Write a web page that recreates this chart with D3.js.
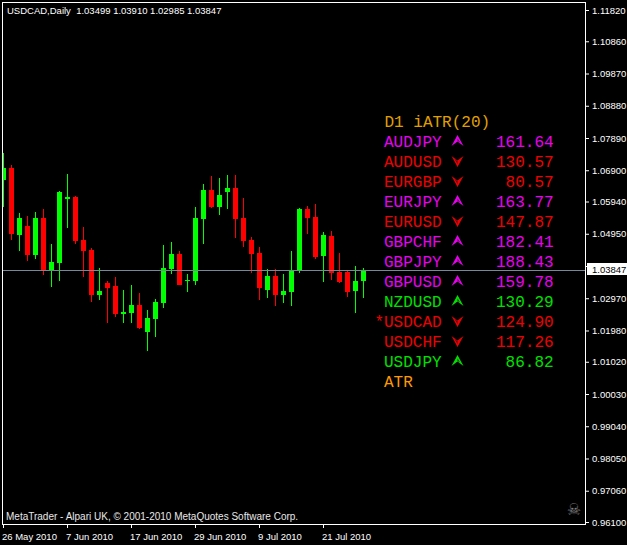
<!DOCTYPE html>
<html>
<head>
<meta charset="utf-8">
<script src="https://cdn.jsdelivr.net/npm/d3@7"></script>
<style>
  html, body { margin: 0; padding: 0; background: #000; }
  svg { display: block; }
  .tick text { font-family: "Liberation Sans", sans-serif; font-size: 9.5px; fill: #fff; }
</style>
</head>
<body>
<div id="chart"></div>
<script>
// Daily USDCAD candles
const opens = [1.06601,1.06969,1.04912,1.05188,1.04298,1.05434,1.03837,1.04052,1.06017,1.06079,1.04759,1.04452,1.03070,1.03439,1.03346,1.02487,1.02517,1.02763,1.01934,1.02333,1.02825,1.03868,1.04329,1.03500,1.03500,1.05403,1.06294,1.05772,1.06232,1.06355,1.05434,1.04759,1.04360,1.03223,1.03654,1.03070,1.03162,1.03807,1.05710,1.05465,1.04268,1.04882,1.03776,1.03776,1.03193,1.03499];
const highs = [1.07430,1.07061,1.05587,1.05495,1.05618,1.05710,1.04636,1.06263,1.06785,1.06109,1.05158,1.04513,1.03899,1.03500,1.03623,1.03223,1.03377,1.03131,1.02610,1.02947,1.04605,1.04697,1.04421,1.03715,1.05772,1.06478,1.06724,1.06662,1.06754,1.06754,1.06048,1.04851,1.04544,1.03868,1.03868,1.03715,1.04421,1.05741,1.05802,1.05864,1.05004,1.05035,1.04360,1.03837,1.03961,1.03910];
const lows = [1.05772,1.04759,1.04421,1.04114,1.04175,1.03684,1.03315,1.03500,1.05127,1.04636,1.03623,1.02855,1.02917,1.02210,1.02395,1.02210,1.02210,1.02026,1.01351,1.01781,1.02671,1.03715,1.03377,1.03162,1.03377,1.04636,1.05741,1.05526,1.05710,1.04820,1.04544,1.03746,1.02917,1.02978,1.02732,1.02825,1.02732,1.03746,1.04943,1.04175,1.03469,1.03531,1.03439,1.03009,1.02517,1.02985];
const closes = [1.06969,1.04953,1.05434,1.04298,1.05434,1.03807,1.04083,1.06232,1.06079,1.04728,1.04421,1.03070,1.03193,1.03285,1.02487,1.02548,1.02763,1.02057,1.02364,1.02855,1.03899,1.04329,1.03377,1.03531,1.05434,1.06294,1.05772,1.06140,1.06355,1.05403,1.04728,1.04329,1.03285,1.03654,1.03070,1.03193,1.03837,1.05710,1.05434,1.04237,1.04912,1.03746,1.03469,1.03162,1.03500,1.03847];

const priceTicks = [1.1182,1.1086,1.0987,1.0888,1.0789,1.069,1.0594,1.0495,1.0396,1.0297,1.0198,1.0102,1.0003,0.9904,0.9805,0.9706,0.961];
const dateTickIndex = [0,8,16,24,32,40];
const dateTickLabels = ["26 May 2010","7 Jun 2010","17 Jun 2010","29 Jun 2010","9 Jul 2010","21 Jul 2010"];

// ATR panel
const atrPairs = ["AUDJPY","AUDUSD","EURGBP","EURJPY","EURUSD","GBPCHF","GBPJPY","GBPUSD","NZDUSD","*USDCAD","USDCHF","USDJPY"];
const atrValues = [161.64,130.57,80.57,163.77,147.87,182.41,188.43,159.78,130.29,124.90,117.26,86.82];
const atrDirs = ["up","down","down","up","down","up","up","up","up","down","down","up"];
const atrLevels = ["high","low","low","high","low","high","high","high","normal","low","low","normal"];

const width = 627, height = 545;
const plot = { left: 2, right: 585, top: 2, bottom: 524 };
const UP = "#00ff00", DOWN = "#ff0000", FRAME = "#ffffff";
const monoFont = '"Liberation Mono", monospace';
const uiFont = '"Liberation Sans", sans-serif';

const svg = d3.select("#chart").append("svg")
  .attr("width", width)
  .attr("height", height)
  .style("background", "#000");

const x = d3.scaleLinear().domain([0, 45]).range([3, 363]);
const y = d3.scaleLinear().domain([1.1182, 0.961]).range([10, 522]);
const py = v => Math.round(y(v));

svg.append("clipPath").attr("id", "plotClip").append("rect")
  .attr("x", plot.left).attr("y", plot.top)
  .attr("width", plot.right - plot.left).attr("height", plot.bottom - plot.top);

const candles = opens.map((o, i) => ({ i, o, h: highs[i], l: lows[i], c: closes[i] }));
const candleGroup = svg.append("g")
  .attr("clip-path", "url(#plotClip)")
  .attr("shape-rendering", "crispEdges");

// wicks
candleGroup.selectAll(".wick").data(candles).enter().append("rect")
  .attr("class", "wick")
  .attr("x", d => x(d.i))
  .attr("width", 1)
  .attr("y", d => py(d.h))
  .attr("height", d => Math.max(1, py(d.l) - py(d.h)))
  .attr("fill", d => d.c >= d.o ? UP : DOWN);

// bodies
candleGroup.selectAll(".body").data(candles).enter().append("rect")
  .attr("class", "body")
  .attr("x", d => x(d.i) - 2)
  .attr("width", 5)
  .attr("y", d => py(Math.max(d.o, d.c)))
  .attr("height", d => Math.max(1, py(Math.min(d.o, d.c)) - py(Math.max(d.o, d.c))))
  .attr("fill", d => d.c >= d.o ? UP : DOWN);

// last price line
const lastClose = closes[closes.length - 1];
svg.append("line")
  .attr("x1", plot.left).attr("x2", plot.right)
  .attr("y1", py(lastClose) + 0.5).attr("y2", py(lastClose) + 0.5)
  .attr("stroke", "#778899")
  .attr("shape-rendering", "crispEdges");

// frame
svg.append("rect")
  .attr("x", plot.left + 0.5).attr("y", plot.top + 0.5)
  .attr("width", plot.right - plot.left).attr("height", plot.bottom - plot.top)
  .attr("fill", "none")
  .attr("stroke", FRAME)
  .attr("shape-rendering", "crispEdges");

// price axis
const yAxis = svg.append("g")
  .attr("transform", `translate(${plot.right + 1},0)`)
  .call(d3.axisRight(y).tickValues(priceTicks).tickFormat(d3.format(".5f")).tickSize(3).tickPadding(3));
yAxis.select(".domain").remove();
yAxis.selectAll(".tick line").attr("stroke", FRAME);

// date axis
const xAxis = svg.append("g")
  .attr("transform", `translate(0,${plot.bottom + 1})`)
  .call(d3.axisBottom(x).tickValues(dateTickIndex)
    .tickFormat((d, i) => dateTickLabels[i]).tickSize(3).tickPadding(5));
xAxis.select(".domain").remove();
xAxis.selectAll(".tick line").attr("stroke", FRAME);
xAxis.selectAll(".tick text").attr("text-anchor", "start").attr("dx", "-1.5");

// last price tag
svg.append("rect")
  .attr("x", plot.right + 2).attr("y", py(lastClose) - 7)
  .attr("width", width - plot.right - 2).attr("height", 12)
  .attr("fill", "#fff");
svg.append("text")
  .attr("x", 592).attr("y", py(lastClose) + 3)
  .attr("font-family", uiFont).attr("font-size", 9.5)
  .attr("fill", "#000")
  .text(d3.format(".5f")(lastClose));

// chart title and OHLC
svg.append("text")
  .attr("x", 7).attr("y", 14)
  .attr("font-family", uiFont).attr("font-size", 9.5)
  .attr("fill", "#fff")
  .attr("xml:space", "preserve")
  .style("white-space", "pre")
  .text(`USDCAD,Daily  ${[opens, highs, lows, closes].map(a => a[a.length - 1].toFixed(5)).join(" ")}`);

// broker line
svg.append("text")
  .attr("x", 6).attr("y", 520)
  .attr("font-family", uiFont).attr("font-size", 10)
  .attr("fill", "#e8e8e8")
  .text("MetaTrader - Alpari UK, © 2001-2010 MetaQuotes Software Corp.");

// skull mark
svg.append("text")
  .attr("x", 574).attr("y", 515)
  .attr("text-anchor", "middle")
  .attr("font-family", '"DejaVu Sans", sans-serif').attr("font-size", 16)
  .attr("fill", "#7d7d7d")
  .text("\u2620");

// ATR panel
const rowY = d3.scaleLinear().domain([0, 1]).range([147, 167]);
const rowColor = (dir, level) => dir === "down" ? "#ee0000" : level === "high" ? "#e800f0" : "#00e000";
const rows = atrPairs.map((name, i) => ({ i, name, value: atrValues[i], dir: atrDirs[i], level: atrLevels[i] }));

const panel = svg.append("g")
  .attr("font-family", monoFont)
  .attr("font-size", 16);

panel.append("text").attr("x", 384.5).attr("y", rowY(-1)).attr("fill", "#e0a000").text("D1 iATR(20)");
panel.append("text").attr("x", 384).attr("y", rowY(12)).attr("fill", "#ff9900").text("ATR");

panel.selectAll(".pair").data(rows).enter().append("text")
  .attr("class", "pair")
  .attr("x", 441.6)
  .attr("y", d => rowY(d.i))
  .attr("text-anchor", "end")
  .attr("fill", d => rowColor(d.dir, d.level))
  .text(d => d.name);

panel.selectAll(".value").data(rows).enter().append("text")
  .attr("class", "value")
  .attr("x", 553.6)
  .attr("y", d => rowY(d.i))
  .attr("text-anchor", "end")
  .attr("fill", d => rowColor(d.dir, d.level))
  .text(d => d.value.toFixed(2));

// arrowheads with a deep notch and a dark wedge inside
const arrowUp = "M0,-6L6,5L0,0.5L-6,5Z";
const arrowDown = "M-6,-5L0,-0.5L6,-5L0,6Z";
const wedgeUp = "M0,-2.5L2.5,1.5L0,-0.2Z";
const wedgeDown = "M-3,-2.5L0,0.6L0,3Z";
panel.selectAll(".arrow").data(rows).enter().append("path")
  .attr("class", "arrow")
  .attr("transform", d => `translate(457.5,${rowY(d.i) - 6})`)
  .attr("d", d => d.dir === "up" ? arrowUp : arrowDown)
  .attr("fill", d => rowColor(d.dir, d.level));
panel.selectAll(".wedge").data(rows).enter().append("path")
  .attr("class", "wedge")
  .attr("transform", d => `translate(457.5,${rowY(d.i) - 6})`)
  .attr("d", d => d.dir === "up" ? wedgeUp : wedgeDown)
  .attr("fill", "#400020");
</script>
</body>
</html>
